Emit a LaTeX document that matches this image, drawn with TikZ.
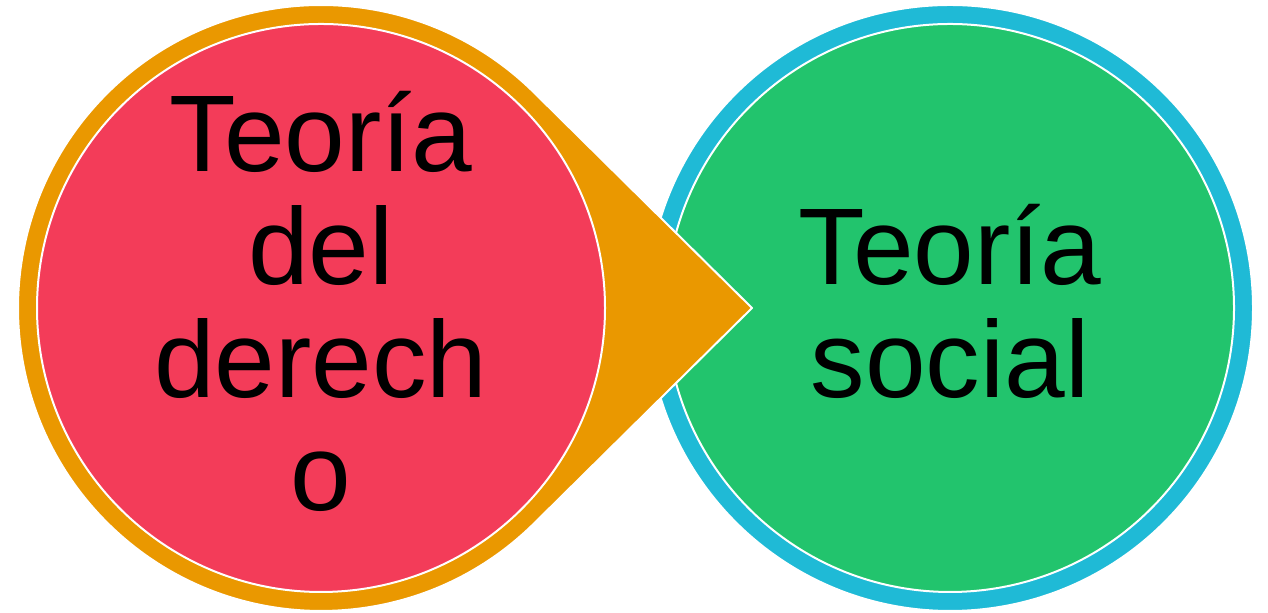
\documentclass[tikz,border=0pt]{standalone}
\usepackage{fontspec}
\setmainfont{Liberation Sans}
\definecolor{naranja}{HTML}{EA9800}
\definecolor{rosa}{HTML}{F33C59}
\definecolor{verde}{HTML}{22C46D}
\definecolor{celeste}{HTML}{1FBAD6}
\begin{document}
\begin{tikzpicture}[x=.5pt,y=.5pt,line join=round,
  disco/.style={circle,draw=white,line width=1pt,minimum size=284pt,inner sep=0pt},
  texto/.style={align=center,inner sep=0pt,font=\fontsize{54.5pt}{56.5pt}\selectfont}]
\useasboundingbox (0,0) rectangle (1268,613);
\coordinate (izq) at (321,305);
\coordinate (der) at (950,305);
\coordinate (punta) at (752,305);
\fill[celeste,draw=white,line width=1pt] (der) circle[radius=303];
\node[disco,fill=verde] (social) at (der) {};
\node[texto] (tsocial) at ([yshift=3.5pt]social.center) {Teoría\\social};
\filldraw[naranja,draw=white,line width=1pt] (punta) -- ([shift={(45.33:303)}]izq) arc[start angle=45.33,end angle=314.67,radius=303] -- cycle;
\node[disco,fill=rosa] (derecho) at (izq) {};
\node[texto] (tderecho) at ([yshift=3.5pt]derecho.center) {Teoría\\del\\derech\\o};
\end{tikzpicture}
\end{document}
